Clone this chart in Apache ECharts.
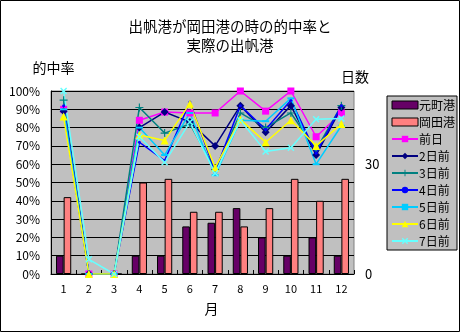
<!DOCTYPE html>
<html><head><meta charset="utf-8">
<script src="https://cdn.jsdelivr.net/npm/echarts@6/dist/echarts.min.js"></script>
<style>html,body{margin:0;padding:0;background:#fff}#c{width:460px;height:332px}</style>
</head><body><div id="c"></div>
<script>
const months = ['1','2','3','4','5','6','7','8','9','10','11','12'];
const motomachi = [5, 0, 0, 5, 5, 13, 14, 18, 10, 5, 10, 5];
const okada = [21, 0, 0, 25, 26, 17, 17, 13, 18, 26, 20, 26];
const d1 = [90, 0, 0, 84, 88.5, 88, 88, 100, 89, 100, 75, 88];
const d2 = [89, 0, 0, 80, 88.5, 83, 70, 92, 77.5, 92, 65, 91];
const d3 = [95, 0, 0, 91, 77, 82, 57, 88, 80, 88, 68, 92];
const d4 = [92, 0, 0, 72, 62, 94, 56, 92, 79, 95, 66, 92];
const d5 = [90, 0, 0, 80, 65, 88, 54, 84, 83.5, 96, 60, 81];
const d6 = [86, 0, 0, 76, 73, 93, 58, 84.5, 72, 84, 70, 82];
const d7 = [100, 8, 0, 75, 61, 83, 55, 84, 67, 69, 84.5, 85];
const leftTicks = [0, 10, 20, 30, 40, 50, 60, 70, 80, 90, 100];
const rightTicks = [0, 30];

const FONT = '"Noto Sans CJK JP", sans-serif';
const plus = 'path://M3,0L4,0L4,3L7,3L7,4L4,4L4,7L3,7L3,4L0,4L0,3L3,3Z';
const cross = 'path://M0,1L1,0L3.5,2.5L6,0L7,1L4.5,3.5L7,6L6,7L3.5,4.5L1,7L0,6L2.5,3.5Z';

function lineSeries(name, data, color, symbol, size) {
  return {
    name, type: 'line', data, yAxisIndex: 0,
    symbol, symbolSize: size, showAllSymbol: true,
    lineStyle: { color, width: 1.5 },
    itemStyle: { color, borderWidth: 0 },
    emphasis: { disabled: true }, animation: false, z: 5
  };
}

const chart = echarts.init(document.getElementById('c'), null, { renderer: 'canvas' });
chart.setOption({
  animation: false,
  backgroundColor: '#ffffff',
  textStyle: { fontFamily: FONT },
  title: {
    text: '出帆港が岡田港の時の的中率と\n実際の出帆港',
    left: 'center', top: 12,
    textStyle: { fontSize: 14.5, fontWeight: 'normal', color: '#000', lineHeight: 19, fontFamily: FONT }
  },
  grid: {
    left: 51, right: 106, top: 91, bottom: 58,
    show: true, backgroundColor: '#c0c0c0', borderColor: '#808080', borderWidth: 1
  },
  legend: {
    orient: 'vertical', left: 387, top: 96, width: 71, height: 158,
    backgroundColor: '#c0c0c0', borderColor: '#000', borderWidth: 1,
    padding: [3, 2, 3, 4], itemGap: 5, itemWidth: 26, itemHeight: 8,
    textStyle: { fontSize: 12, color: '#000', lineHeight: 12, padding: [0, 0, 0, -4], fontFamily: FONT },
    data: [
      { name: '元町港', icon: 'rect', itemStyle: { borderColor: '#000', borderWidth: 1 } },
      { name: '岡田港', icon: 'rect', itemStyle: { borderColor: '#000', borderWidth: 1 } },
      '前日', '2日前', '3日前', '4日前', '5日前', '6日前', '7日前'
    ]
  },
  xAxis: {
    type: 'category', data: months, boundaryGap: true,
    name: '月', nameLocation: 'middle', nameGap: 28,
    nameTextStyle: { fontSize: 14, color: '#000', padding: [0, 0, 0, 18], fontFamily: FONT },
    axisLine: { lineStyle: { color: '#000', width: 1 } },
    axisTick: { show: true, inside: true, length: 4, lineStyle: { color: '#000' } },
    axisLabel: { color: '#000', fontSize: 11, margin: 9, fontFamily: FONT }
  },
  yAxis: [
    {
      type: 'value', min: 0, max: 100, interval: 10,
      name: '的中率', nameLocation: 'end', nameGap: 16,
      nameTextStyle: { fontSize: 14, color: '#000', align: 'center', padding: [0, 0, 0, 5], fontFamily: FONT },
      axisLine: { show: true, lineStyle: { color: '#000' } },
      axisTick: { show: false },
      axisLabel: { color: '#000', fontSize: 12, margin: 11, formatter: v => leftTicks.includes(v) ? v + '%' : '', fontFamily: FONT },
      splitLine: { show: true, lineStyle: { color: '#000', width: 1 } }
    },
    {
      type: 'value', min: 0, max: 50, interval: 30,
      name: '日数', nameLocation: 'end', nameGap: 7,
      nameTextStyle: { fontSize: 14, color: '#000', align: 'center', padding: [0, 0, 0, 2], fontFamily: FONT },
      axisLine: { show: false },
      axisTick: { show: false },
      axisLabel: { color: '#000', fontSize: 13, margin: 11, showMaxLabel: false, formatter: v => rightTicks.includes(v) ? String(v) : '', fontFamily: FONT },
      splitLine: { show: false }
    }
  ],
  series: [
    { name: '元町港', type: 'bar', yAxisIndex: 1, data: motomachi, barWidth: 7.6, barGap: '0%',
      itemStyle: { color: '#660066', borderColor: '#000', borderWidth: 1 }, z: 2 },
    { name: '岡田港', type: 'bar', yAxisIndex: 1, data: okada, barWidth: 7.6, barGap: '0%',
      itemStyle: { color: '#ff8080', borderColor: '#000', borderWidth: 1 }, z: 2 },
    lineSeries('前日', d1, '#ff00ff', 'rect', 7),
    lineSeries('2日前', d2, '#000080', 'diamond', 8),
    lineSeries('3日前', d3, '#008080', plus, 8),
    lineSeries('4日前', d4, '#0000ff', 'circle', 3),
    lineSeries('5日前', d5, '#00ccff', 'rect', [7, 2]),
    lineSeries('6日前', d6, '#ffff00', 'triangle', 8),
    lineSeries('7日前', d7, '#66ffff', cross, 7)
  ],
  graphic: [
    { type: 'rect', shape: { x: 0.5, y: 0.5, width: 459, height: 331 }, style: { fill: 'none', stroke: '#000', lineWidth: 1 }, silent: true }
  ]
});
</script></body></html>
